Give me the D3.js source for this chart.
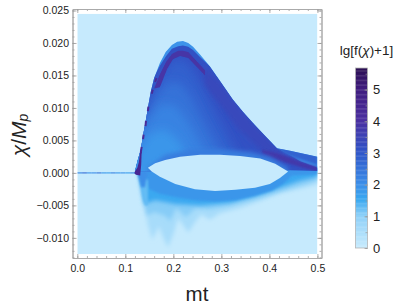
<!DOCTYPE html>
<html>
<head>
<meta charset="utf-8">
<script src="https://cdn.jsdelivr.net/npm/d3@7"></script>
<style>
  body { margin: 0; background: #fff; }
  text { font-family: "Liberation Sans", sans-serif; fill: #222; }
</style>
</head>
<body>
<svg id="chart" width="399" height="307"></svg>
<script>
// colour scale
const colorLevels = [0, 1, 1.5, 2, 3, 4, 5, 5.7];
const colorValues = ["#c6eafd", "#8ed0f8", "#3aa8f0", "#3c8ee8", "#2f55c8", "#4a2fa0", "#3f1c7e", "#2a0e50"];

const xMajor = [0, 0.1, 0.2, 0.3, 0.4, 0.5];
const yMajor = [-0.01, -0.005, 0, 0.005, 0.01, 0.015, 0.02, 0.025];
const legendMajor = [0, 1, 2, 3, 4, 5];

// contour outlines of lg[f+1], each as [mt, chi]
const lower1 = [[.128,.0002],[.135,-.0034],[.147,-.0080],[.156,-.0103],[.170,-.0082],[.178,-.0098],[.189,-.0115],[.201,-.0092],[.210,-.0070],[.220,-.0080],[.231,-.0092],[.245,-.0076],[.258,-.0064],[.276,-.0072],[.297,-.0062],[.339,-.0054],[.381,-.0043],[.422,-.0031],[.464,-.0024],[.5,-.0018],[.5,.0008],[.128,.0008]];
const lower2 = [[.128,.0002],[.135,-.0028],[.145,-.0066],[.160,-.0060],[.183,-.0066],[.193,-.0074],[.206,-.0054],[.226,-.0068],[.247,-.0054],[.276,-.0056],[.318,-.0050],[.381,-.0038],[.433,-.0026],[.474,-.0017],[.5,-.0011],[.5,.0008],[.128,.0008]];
const lower3 = [[.128,.0002],[.134,-.0022],[.140,-.0048],[.162,-.0042],[.204,-.0048],[.256,-.0050],[.318,-.0046],[.370,-.0036],[.422,-.0023],[.464,-.0012],[.5,-.0006],[.5,.0008],[.128,.0008]];
const lower4 = [[.135,.0002],[.150,-.0025],[.172,-.0032],[.204,-.0037],[.245,-.0042],[.287,-.0044],[.329,-.0042],[.370,-.0035],[.406,-.0027],[.428,-.0017],[.447,-.0004],[.5,-.0002],[.5,.0008],[.135,.0008]];
const leftStair = [[.124,.0002],[.129,-.0011],[.133,-.0022],[.141,-.0022],[.146,.0002]];
const leftStairLow = [[.131,-.0010],[.136,-.0036],[.141,-.0050],[.147,-.0050],[.147,-.0010]];

const humpEdge = [[.120,.0002],[.126,.0020],[.132,.0035],[.137,.0058],[.142,.0078],[.147,.0100],[.153,.0125],[.160,.0146],[.172,.0169],[.184,.0186],[.197,.0197],[.208,.0202],[.220,.0203],[.231,.0200],[.241,.0194],[.256,.0182],[.276,.0164],[.297,.0142],[.324,.0113],[.345,.0094],[.366,.0077],[.391,.0057],[.416,.0038],[.443,.0034],[.474,.0029],[.5,.0025],[.5,.0003],[.443,.0004],[.131,.0002]];
const lobe = [[.112,.0002],[.118,.0020],[.126,.0035],[.131,.0058],[.136,.0078],[.143,.0100],[.150,.0125],[.158,.0145],[.172,.0165],[.185,.0180],[.197,.0191],[.210,.0195],[.220,.0196],[.231,.0194],[.241,.0189],[.256,.0178],[.276,.0164],[.297,.0142],[.324,.0113],[.345,.0094],[.366,.0077],[.391,.0057],[.416,.0038],[.433,.0031],[.464,.0018],[.5,.0008],[.5,-.0010],[.443,-.0010],[.112,-.0010]];
const band27 = [[.090,-.0060],[.120,.0040],[.140,.0085],[.156,.0122],[.175,.0152],[.197,.0172],[.214,.0176],[.231,.0168],[.251,.0146],[.272,.0115],[.293,.0085],[.314,.0055],[.340,.0020],[.362,-.0060]];
const band24 = [[.090,-.0060],[.120,.0040],[.140,.0080],[.162,.0116],[.188,.0140],[.214,.0140],[.236,.0120],[.256,.0090],[.278,.0060],[.302,.0030],[.322,-.0060]];
const band21 = [[.090,-.0060],[.120,.0040],[.145,.0078],[.174,.0106],[.204,.0104],[.228,.0082],[.248,.0056],[.268,.0028],[.288,-.0060]];
const band18 = [[.090,-.0060],[.125,.0030],[.150,.0060],[.180,.0068],[.208,.0052],[.230,.0026],[.248,-.0060]];
const ridgeTop = [[.160,.0130],[.172,.0152],[.185,.0171],[.197,.0183],[.210,.0188],[.220,.0188],[.231,.0186],[.245,.0175],[.266,.0158],[.266,.0150],[.245,.0166],[.231,.0177],[.214,.0180],[.199,.0175],[.187,.0160],[.172,.0132]];
const ridgeRight = [[.262,.0165],[.297,.0140],[.324,.0112],[.366,.0076],[.416,.0037],[.464,.0018],[.433,.0015],[.375,.0040],[.335,.0068],[.266,.0135]];
const tailLight = [[.416,.0040],[.443,.0036],[.474,.0031],[.5,.0027],[.5,.0012],[.464,.0021],[.433,.0029]];
const tailDark = [[.385,.0036],[.422,.0029],[.464,.0017],[.5,.0009],[.5,.0002],[.464,.0009],[.422,.0019],[.385,.0030]];
const holeRim = [[.147,.0008],[.183,.0028],[.235,.0036],[.297,.0036],[.360,.0032],[.401,.0024],[.439,.0008],[.439,-.0002],[.147,-.0002]];
const knot = [[.118,.0000],[.125,.0008],[.128,.0016],[.131,.0032],[.134,.0032],[.133,.0012],[.131,-.0004],[.122,-.0003]];
const hole = [[.147,.0008],[.162,.0015],[.183,.0020],[.214,.0025],[.256,.0028],[.297,.0028],[.339,.0026],[.381,.0022],[.412,.0014],[.439,.0002],[.422,-.0008],[.401,-.0017],[.370,-.0023],[.329,-.0026],[.287,-.0028],[.245,-.0025],[.204,-.0017],[.172,-.0006],[.155,.0002]];

// purple dashes on the steep left edge [mt0, chi0, mt1, chi1]
const ridgeDashes = [[.132,.0030,.134,.0040],[.137,.0052,.138,.0059],[.142,.0072,.143,.0080],[.147,.0095,.148,.0102],[.155,.0122,.157,.0128],[.162,.0140,.165,.0146]];

// thin streak along chi = 0 left of the lobe
const streakMt = [0, .01, .02, .03, .04, .05, .06, .07, .08, .09, .10, .11, .12];
const streakLg = [2.2, 2.6, 1.9, 2.0, 2.4, 1.8, 1.7, 2.2, 1.8, 1.9, 1.7, 2.1, 3.0];

const svg = d3.select("#chart");

const x = d3.scaleLinear().domain([-0.01, 0.5085]).range([72.5, 321.5]);
const y = d3.scaleLinear().domain([-0.0131, 0.02523]).range([258, 9]);
const legendY = d3.scaleLinear().domain([0, 5.68]).range([248, 68]);
const color = d3.scaleLinear().domain(colorLevels).range(colorValues).clamp(true);

const defs = svg.append("defs");

function addBlur(id, dev) {
  defs.append("filter")
    .attr("id", id)
    .attr("x", "-20%").attr("y", "-20%")
    .attr("width", "140%").attr("height", "140%")
    .append("feGaussianBlur")
    .attr("stdDeviation", dev);
}
addBlur("wide", 5);
addBlur("soft", 2.2);
addBlur("mid", 1.3);
addBlur("tight", 0.7);

const outline = d3.line().x(d => x(d[0])).y(d => y(d[1])).curve(d3.curveLinearClosed);

defs.append("clipPath")
  .attr("id", "plotClip")
  .append("rect")
  .attr("x", x(0))
  .attr("y", y(0.0245))
  .attr("width", x(0.5) - x(0))
  .attr("height", y(-0.0125) - y(0.0245));

defs.append("clipPath")
  .attr("id", "humpClip")
  .append("path")
  .attr("d", outline(humpEdge));

const plot = svg.append("g").attr("clip-path", "url(#plotClip)");

plot.append("rect")
  .attr("x", x(0))
  .attr("y", y(0.0245))
  .attr("width", x(0.5) - x(0))
  .attr("height", y(-0.0125) - y(0.0245))
  .attr("fill", color(0));

function drawLayers(parent, layers) {
  parent.selectAll("path.layer")
    .data(layers)
    .join("path")
    .attr("class", "layer")
    .attr("d", d => outline(d[0]))
    .attr("fill", d => color(d[1]))
    .attr("filter", d => "url(#" + d[2] + ")");
}

// painted back to front: below the hole, then the lobe, then the hole on top
drawLayers(plot.append("g"), [
  [lower1, 0.55, "soft"],
  [lower2, 1.05, "soft"],
  [lower3, 1.5, "soft"],
  [lower4, 1.85, "mid"],
  [leftStairLow, 1.25, "mid"],
  [leftStair, 2.0, "mid"]
]);

plot.append("path")
  .attr("d", outline(humpEdge))
  .attr("fill", color(1.9))
  .attr("filter", "url(#tight)");

drawLayers(plot.append("g").attr("clip-path", "url(#humpClip)"), [
  [lobe, 3.1, "tight"],
  [band27, 2.8, "wide"],
  [band24, 2.5, "wide"],
  [band21, 2.2, "wide"],
  [band18, 1.85, "wide"],
  [ridgeRight, 3.3, "soft"],
  [ridgeTop, 3.85, "tight"],
  [tailLight, 2.75, "mid"],
  [tailDark, 3.75, "mid"],
  [holeRim, 2.3, "soft"]
]);

drawLayers(plot.append("g"), [
  [knot, 4.4, "tight"],
  [hole, 0, "tight"]
]);

plot.append("g")
  .attr("filter", "url(#tight)")
  .selectAll("line")
  .data(ridgeDashes)
  .join("line")
  .attr("x1", d => x(d[0]))
  .attr("y1", d => y(d[1]))
  .attr("x2", d => x(d[2]))
  .attr("y2", d => y(d[3]))
  .attr("stroke", color(4.2))
  .attr("stroke-width", 2);

plot.append("g")
  .selectAll("line")
  .data(streakMt.slice(0, -1))
  .join("line")
  .attr("x1", (d, i) => x(streakMt[i]))
  .attr("x2", (d, i) => x(streakMt[i + 1]))
  .attr("y1", y(0))
  .attr("y2", y(0))
  .attr("stroke", (d, i) => color(streakLg[i]))
  .attr("stroke-width", 1.3)
  .attr("opacity", 0.85);

// frame, Mathematica style: ticks on all four sides, pointing inward
function addFrameAxis(maker, scale, tx, ty, majors, minors, format) {
  const g = svg.append("g").attr("transform", "translate(" + tx + "," + ty + ")");
  g.append("g").call(maker(scale).tickValues(minors).tickSizeInner(-2).tickSizeOuter(0).tickFormat(""));
  g.append("g").call(maker(scale).tickValues(majors).tickSizeInner(-4).tickSizeOuter(0).tickFormat(format || ""));
  g.selectAll("path").attr("stroke", "#aaa").attr("stroke-width", 1);
  g.selectAll("line").attr("stroke", "#999").attr("stroke-width", 0.8);
  g.selectAll("text").attr("font-size", 10.5).style("font-family", "Liberation Sans").attr("fill", "#222");
  return g;
}

const minusFormat = f => n => f(n).replace("-", "\u2212");
const xMinor = d3.range(0, 0.5001, 0.02);
const yMinor = d3.range(-0.013, 0.02501, 0.001);

const bottomAxis = addFrameAxis(d3.axisBottom, x, 0, 258, xMajor, xMinor, d3.format(".1f"));
bottomAxis.selectAll("text").attr("y", 14).attr("dy", 0);
addFrameAxis(d3.axisTop, x, 0, 9, xMajor, xMinor);
const leftAxis = addFrameAxis(d3.axisLeft, y, 72.5, 0, yMajor, yMinor, minusFormat(d3.format(".3f")));
leftAxis.selectAll("text").attr("x", -3.5);
addFrameAxis(d3.axisRight, y, 321.5, 0, yMajor, yMinor);

// axis titles
svg.append("text")
  .attr("x", 197)
  .attr("y", 301)
  .attr("text-anchor", "middle")
  .attr("font-size", 20.5)
  .text("mt");

const yTitle = svg.append("text")
  .attr("transform", "translate(26,135) rotate(-90)")
  .attr("text-anchor", "middle")
  .attr("font-size", 21);
yTitle.append("tspan").attr("font-style", "italic").text("\u03c7");
yTitle.append("tspan").text("/");
yTitle.append("tspan").attr("font-style", "italic").text("M");
yTitle.append("tspan").attr("font-style", "italic").attr("font-size", 14).attr("dy", 2).text("p");

// legend
const legendSteps = d3.range(0, 5.68, 0.04);
svg.append("g")
  .selectAll("rect")
  .data(legendSteps)
  .join("rect")
  .attr("x", 355.5)
  .attr("width", 12)
  .attr("y", d => legendY(Math.min(d + 0.05, 5.68)))
  .attr("height", d => legendY(d) - legendY(Math.min(d + 0.05, 5.68)))
  .attr("fill", d => color(d));

svg.append("rect")
  .attr("x", 355.5)
  .attr("y", legendY(5.68))
  .attr("width", 12)
  .attr("height", legendY(0) - legendY(5.68))
  .attr("fill", "none")
  .attr("stroke", "#b5b5b5")
  .attr("stroke-width", 0.8);

const legendAxis = svg.append("g").attr("transform", "translate(367.5,0)");
legendAxis.append("g").call(d3.axisRight(legendY).tickValues(d3.range(0, 5.51, 0.5)).tickSize(-2).tickFormat(""));
legendAxis.append("g").call(d3.axisRight(legendY).tickValues(legendMajor).tickSize(-3).tickPadding(6).tickFormat(d3.format("d")));
legendAxis.selectAll("path").remove();
legendAxis.selectAll("line").attr("stroke", "#999").attr("stroke-width", 0.7);
legendAxis.selectAll("text")
  .attr("x", 5.5)
  .attr("font-size", 13)
  .style("font-family", "Liberation Sans")
  .attr("fill", "#222");

const legendTitle = svg.append("text")
  .attr("x", 366.5)
  .attr("y", 55)
  .attr("text-anchor", "middle")
  .attr("font-size", 13.5);
legendTitle.append("tspan").text("lg[f(");
legendTitle.append("tspan").attr("font-style", "italic").text("\u03c7");
legendTitle.append("tspan").text(")+1]");
</script>
</body>
</html>
